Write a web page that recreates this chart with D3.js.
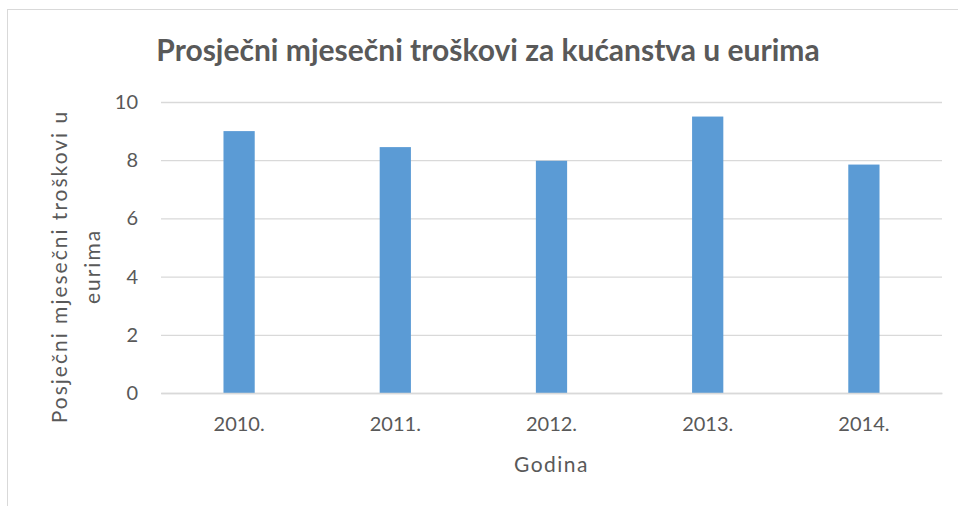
<!DOCTYPE html>
<html>
<head>
<meta charset="utf-8">
<script src="https://cdn.jsdelivr.net/npm/d3@7"></script>
<style>
  body { margin: 0; background: #fff; }
  text { font-family: Lato, "Open Sans", sans-serif; fill: #595959; }
</style>
</head>
<body>
<div id="chart"></div>
<script>
// chart data
const years = ["2010.", "2011.", "2012.", "2013.", "2014."];
const costs = [9.0, 8.45, 7.98, 9.5, 7.85];
const yTicks = [0, 2, 4, 6, 8, 10];

const W = 958, H = 506;
const margin = {top: 102, right: 16, bottom: 113, left: 161};
const w = W - margin.left - margin.right;
const h = H - margin.top - margin.bottom;

const svg = d3.select("#chart").append("svg")
    .attr("width", W)
    .attr("height", H);

// outer chart border (right and bottom run off the picture)
svg.append("rect")
    .attr("x", 7.5).attr("y", 9.5)
    .attr("width", W + 10).attr("height", H + 10)
    .attr("fill", "none")
    .attr("stroke", "#d9d9d9");

const g = svg.append("g")
    .attr("transform", "translate(" + margin.left + "," + margin.top + ")");

const x = d3.scaleBand()
    .domain(years)
    .range([0, w])
    .paddingInner(0.8)
    .paddingOuter(0.4);

const y = d3.scaleLinear()
    .domain([0, 10])
    .range([h, 0]);

// gridlines
g.append("g")
    .attr("class", "grid")
    .call(d3.axisLeft(y).tickValues(yTicks).tickSize(-w).tickFormat(""))
    .call(a => a.select(".domain").remove())
    .call(a => a.selectAll("line").attr("stroke", "#d9d9d9").attr("stroke-width", 1.3));

// y axis labels
g.append("g")
    .call(d3.axisLeft(y).tickValues(yTicks).tickSize(0).tickPadding(23))
    .call(a => a.select(".domain").remove())
    .call(a => a.selectAll("text").style("font-size", "20px"));

// bars
g.selectAll(".bar")
    .data(costs)
    .enter().append("rect")
    .attr("class", "bar")
    .attr("x", (d, i) => x(years[i]))
    .attr("y", d => y(d))
    .attr("width", x.bandwidth())
    .attr("height", d => h - y(d))
    .attr("fill", "#5b9bd5");

// x axis
g.append("g")
    .attr("transform", "translate(0," + h + ")")
    .call(d3.axisBottom(x).tickSize(0).tickPadding(24))
    .call(a => a.select(".domain").attr("stroke", "#d9d9d9").attr("stroke-width", 1.3))
    .call(a => a.selectAll("text").style("font-size", "20px"));

// title
svg.append("text")
    .attr("x", 488)
    .attr("y", 61)
    .attr("text-anchor", "middle")
    .style("font-size", "30px")
    .style("font-weight", "bold")
    .text("Prosječni mjesečni troškovi za kućanstva u eurima");

// x axis title
svg.append("text")
    .attr("x", margin.left + w / 2)
    .attr("y", 472)
    .attr("text-anchor", "middle")
    .style("font-size", "21px")
    .style("letter-spacing", "1.5px")
    .text("Godina");

// y axis title, two lines
const yl = svg.append("text")
    .attr("transform", "translate(67," + (margin.top + h / 2 + 19) + ") rotate(-90)")
    .attr("text-anchor", "middle")
    .style("font-size", "21px")
    .style("letter-spacing", "2px");
yl.append("tspan").attr("x", 0).attr("dy", 0).text("Posječni mjesečni troškovi u");
yl.append("tspan").attr("x", 0).attr("dy", 33).text("eurima");
</script>
</body>
</html>
